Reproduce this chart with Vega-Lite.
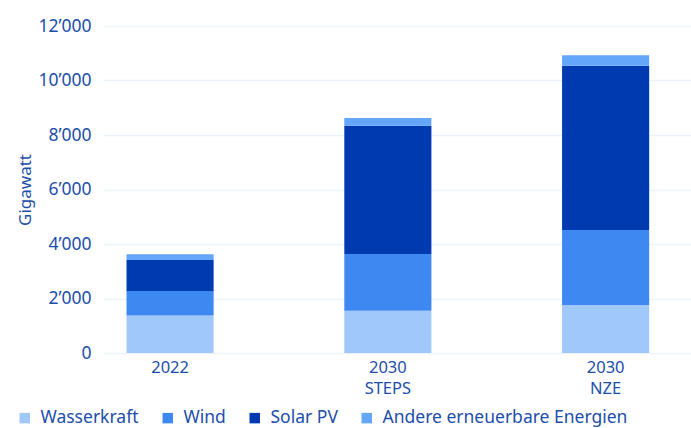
{
  "$schema": "https://vega.github.io/schema/vega-lite/v6.json",
  "width": 588,
  "height": 327,
  "autosize": {"type": "none"},
  "padding": {"left": 103, "top": 26, "right": 0, "bottom": 75},
  "config": {
    "view": {"stroke": null},
    "font": "Noto Sans"
  },
  "data": {
    "values": [
      {"Szenario": "2022", "Quelle": "Wasserkraft", "GW": 1380},
      {"Szenario": "2022", "Quelle": "Wind", "GW": 895},
      {"Szenario": "2022", "Quelle": "Solar PV", "GW": 1140},
      {"Szenario": "2022", "Quelle": "Andere erneuerbare Energien", "GW": 205},
      {"Szenario": "2030 STEPS", "Quelle": "Wasserkraft", "GW": 1550},
      {"Szenario": "2030 STEPS", "Quelle": "Wind", "GW": 2080},
      {"Szenario": "2030 STEPS", "Quelle": "Solar PV", "GW": 4710},
      {"Szenario": "2030 STEPS", "Quelle": "Andere erneuerbare Energien", "GW": 285},
      {"Szenario": "2030 NZE", "Quelle": "Wasserkraft", "GW": 1760},
      {"Szenario": "2030 NZE", "Quelle": "Wind", "GW": 2750},
      {"Szenario": "2030 NZE", "Quelle": "Solar PV", "GW": 6030},
      {"Szenario": "2030 NZE", "Quelle": "Andere erneuerbare Energien", "GW": 390}
    ]
  },
  "transform": [
    {"calculate": "indexof(['Wasserkraft', 'Wind', 'Solar PV', 'Andere erneuerbare Energien'], datum.Quelle)", "as": "Reihenfolge"}
  ],
  "mark": {"type": "bar"},
  "encoding": {
    "x": {
      "field": "Szenario",
      "type": "nominal",
      "sort": ["2022", "2030 STEPS", "2030 NZE"],
      "scale": {"paddingInner": 0.6, "paddingOuter": 0.15, "align": 0.36},
      "axis": {
        "title": null,
        "labelAngle": 0,
        "labelExpr": "split(datum.value, ' ')",
        "labelFontSize": 16.5,
        "labelColor": "#1d4eaa",
        "labelPadding": 6,
        "labelLineHeight": 21,
        "ticks": false,
        "domain": false
      }
    },
    "y": {
      "field": "GW",
      "type": "quantitative",
      "stack": "zero",
      "scale": {"domain": [0, 12000], "nice": false},
      "axis": {
        "title": "Gigawatt",
        "titleFontSize": 17,
        "titleFontWeight": "normal",
        "titleColor": "#1d4eaa",
        "titlePadding": 3,
        "values": [0, 2000, 4000, 6000, 8000, 10000, 12000],
        "labelExpr": "replace(format(datum.value, ','), ',', '’')",
        "labelFontSize": 17.5,
        "labelColor": "#1d4eaa",
        "labelPadding": 12,
        "ticks": false,
        "domain": false,
        "gridColor": "#edf3fc",
        "gridWidth": 1.5
      }
    },
    "order": {"field": "Reihenfolge", "type": "quantitative", "sort": "ascending"},
    "color": {
      "field": "Quelle",
      "type": "nominal",
      "sort": ["Wasserkraft", "Wind", "Solar PV", "Andere erneuerbare Energien"],
      "scale": {
        "domain": ["Wasserkraft", "Wind", "Solar PV", "Andere erneuerbare Energien"],
        "range": ["#a0c8fb", "#3d88f1", "#003ab1", "#64a6f9"]
      },
      "legend": {
        "title": null,
        "orient": "none",
        "legendX": -87,
        "legendY": 383,
        "direction": "horizontal",
        "symbolType": "square",
        "symbolSize": 110,
        "symbolStrokeWidth": 0,
        "labelFontSize": 17.5,
        "labelColor": "#1d4eaa",
        "labelOffset": 7,
        "columnPadding": 20,
        "labelLimit": 400
      }
    }
  }
}
